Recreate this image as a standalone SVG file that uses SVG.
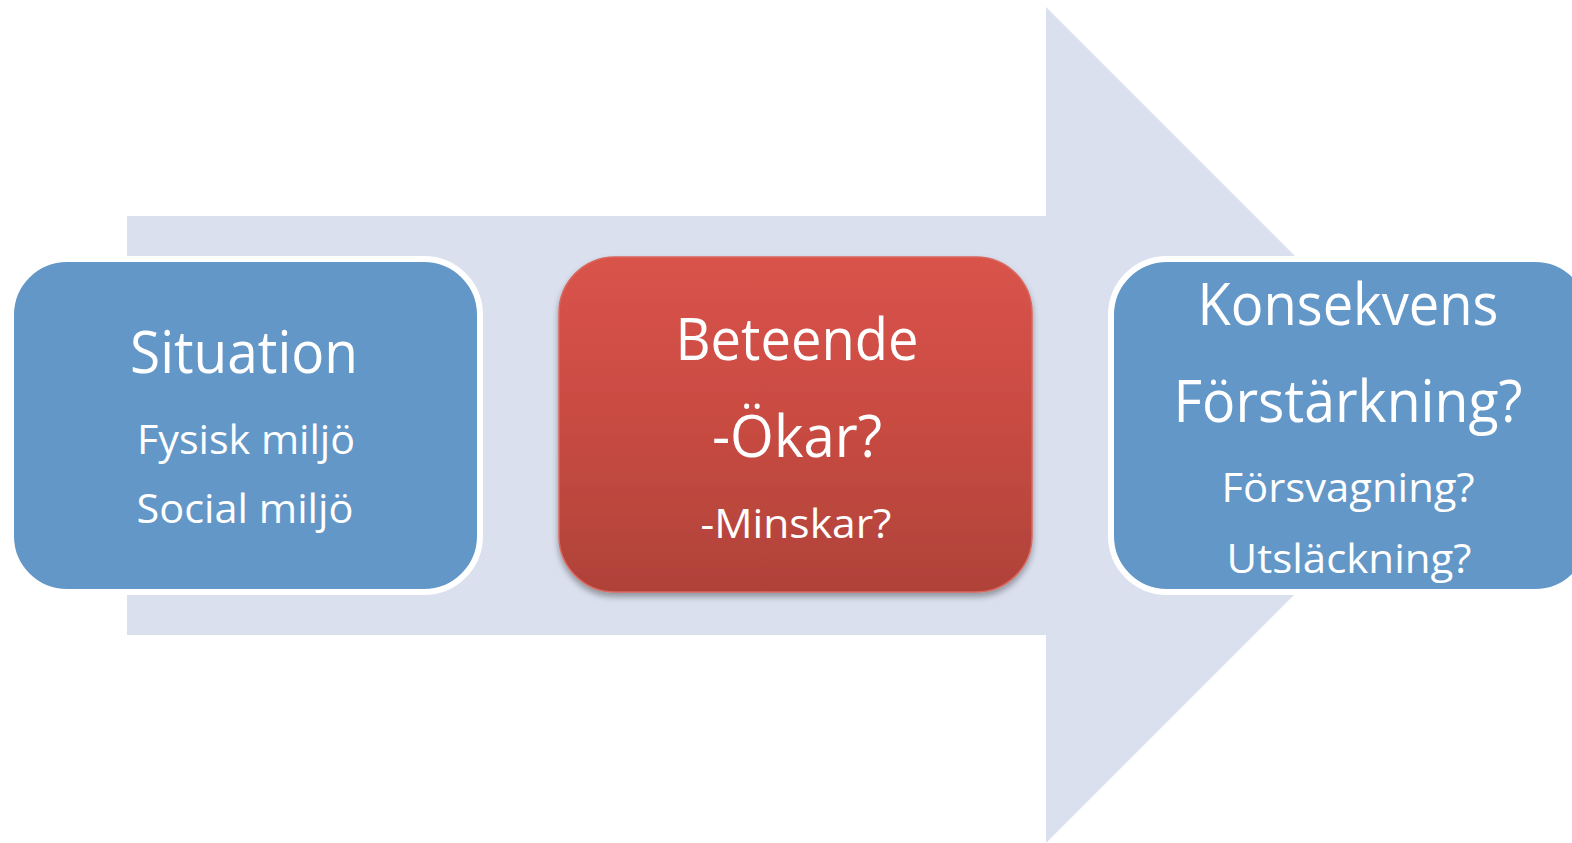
<svg xmlns="http://www.w3.org/2000/svg" width="1572" height="843" viewBox="0 0 1572 843">
<defs>
<linearGradient id="redGrad" x1="0" y1="0" x2="0" y2="1">
<stop offset="0" stop-color="#D9534A"/>
<stop offset="0.5" stop-color="#C84B42"/>
<stop offset="1" stop-color="#AF4239"/>
</linearGradient>
<filter id="shadow" x="-10%" y="-10%" width="120%" height="125%">
<feDropShadow dx="0" dy="4" stdDeviation="3" flood-color="#000" flood-opacity="0.35"/>
</filter>
</defs>
<style>
.t{font-family:"Open Sans","Liberation Sans",sans-serif;fill:#FFFFFF;text-anchor:middle}
.big{font-size:58px}
.small{font-size:41px}
.blue{fill:#6297C8;stroke:#FFFFFF;stroke-width:6}
</style>
<rect width="1572" height="843" fill="#FFFFFF"/>
<g id="arrow">
<polygon points="127,216 1046,216 1046,7 1464,425 1046,843 1046,635 127,635" fill="#DAE0EE"/>
</g>
<g id="connectors"></g>
<g id="situation">
<rect class="blue" x="11" y="259" width="469" height="333" rx="56" ry="56"/>
<text class="t big" x="244" y="373" textLength="228" lengthAdjust="spacingAndGlyphs">Situation</text>
<text class="t small" x="246" y="454" textLength="218" lengthAdjust="spacingAndGlyphs">Fysisk miljö</text>
<text class="t small" x="245" y="523" textLength="217" lengthAdjust="spacingAndGlyphs">Social miljö</text>
</g>
<g id="beteende">
<rect x="559" y="257" width="473" height="335" rx="56" ry="56" fill="url(#redGrad)" stroke="#D8675F" stroke-width="1.5" filter="url(#shadow)"/>
<text class="t big" x="797" y="360" textLength="243" lengthAdjust="spacingAndGlyphs">Beteende</text>
<text class="t big" x="797" y="457" textLength="170" lengthAdjust="spacingAndGlyphs">-Ökar?</text>
<text class="t small" x="796" y="538" textLength="191" lengthAdjust="spacingAndGlyphs">-Minskar?</text>
</g>
<g id="konsekvens">
<rect class="blue" x="1111" y="259" width="480" height="333" rx="56" ry="56"/>
<text class="t big" x="1348" y="325" textLength="301" lengthAdjust="spacingAndGlyphs">Konsekvens</text>
<text class="t big" x="1348" y="422" textLength="349" lengthAdjust="spacingAndGlyphs">Förstärkning?</text>
<text class="t small" x="1348" y="502" textLength="253" lengthAdjust="spacingAndGlyphs">Försvagning?</text>
<text class="t small" x="1349" y="573" textLength="245" lengthAdjust="spacingAndGlyphs">Utsläckning?</text>
</g>
</svg>
